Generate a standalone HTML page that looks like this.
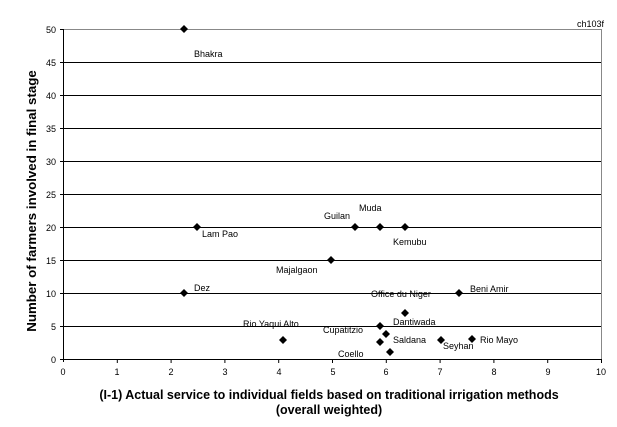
<!DOCTYPE html>
<html><head><style>
body{margin:0;background:#fff;}
svg text{font-family:"Liberation Sans",Arial,sans-serif;}
</style></head><body>
<svg width="617" height="422" xmlns="http://www.w3.org/2000/svg">
<rect width="617" height="422" fill="#fff"/>
<g stroke="#000" stroke-width="1">
<line x1="63" y1="62.5" x2="601" y2="62.5"/>
<line x1="63" y1="95.5" x2="601" y2="95.5"/>
<line x1="63" y1="128.5" x2="601" y2="128.5"/>
<line x1="63" y1="161.5" x2="601" y2="161.5"/>
<line x1="63" y1="194.5" x2="601" y2="194.5"/>
<line x1="63" y1="227.5" x2="601" y2="227.5"/>
<line x1="63" y1="260.5" x2="601" y2="260.5"/>
<line x1="63" y1="293.5" x2="601" y2="293.5"/>
<line x1="63" y1="326.5" x2="601" y2="326.5"/>
</g>
<line x1="63" y1="29.5" x2="601" y2="29.5" stroke="#888"/>
<line x1="601.5" y1="29" x2="601.5" y2="359" stroke="#888"/>
<line x1="63.5" y1="29" x2="63.5" y2="362" stroke="#000"/>
<line x1="60" y1="359.5" x2="601" y2="359.5" stroke="#000"/>
<g stroke="#000">
<line x1="60" y1="29.5" x2="63" y2="29.5"/><line x1="60" y1="62.5" x2="63" y2="62.5"/><line x1="60" y1="95.5" x2="63" y2="95.5"/><line x1="60" y1="128.5" x2="63" y2="128.5"/><line x1="60" y1="161.5" x2="63" y2="161.5"/><line x1="60" y1="194.5" x2="63" y2="194.5"/><line x1="60" y1="227.5" x2="63" y2="227.5"/><line x1="60" y1="260.5" x2="63" y2="260.5"/><line x1="60" y1="293.5" x2="63" y2="293.5"/><line x1="60" y1="326.5" x2="63" y2="326.5"/>
<line x1="117.3" y1="359" x2="117.3" y2="363"/><line x1="171.1" y1="359" x2="171.1" y2="363"/><line x1="224.9" y1="359" x2="224.9" y2="363"/><line x1="278.7" y1="359" x2="278.7" y2="363"/><line x1="332.5" y1="359" x2="332.5" y2="363"/><line x1="386.3" y1="359" x2="386.3" y2="363"/><line x1="440.1" y1="359" x2="440.1" y2="363"/><line x1="493.9" y1="359" x2="493.9" y2="363"/><line x1="547.7" y1="359" x2="547.7" y2="363"/><line x1="601.5" y1="359" x2="601.5" y2="363"/>
</g>
<g font-size="9" text-anchor="end">
<text x="56" y="33">50</text><text x="56" y="66">45</text><text x="56" y="99">40</text><text x="56" y="132">35</text><text x="56" y="165">30</text><text x="56" y="198">25</text><text x="56" y="231">20</text><text x="56" y="264">15</text><text x="56" y="297">10</text><text x="56" y="330">5</text><text x="56" y="363">0</text>
</g>
<g font-size="9" text-anchor="middle">
<text x="63" y="375">0</text><text x="117" y="375">1</text><text x="171" y="375">2</text><text x="225" y="375">3</text><text x="279" y="375">4</text><text x="333" y="375">5</text><text x="386" y="375">6</text><text x="440" y="375">7</text><text x="494" y="375">8</text><text x="548" y="375">9</text><text x="601" y="375">10</text>
</g>
<text x="577" y="27" font-size="9">ch103f</text>
<text x="329" y="399" font-size="12.5" font-weight="bold" text-anchor="middle">(I-1) Actual service to individual fields based on traditional irrigation methods</text>
<text x="329" y="414" font-size="12.5" font-weight="bold" text-anchor="middle">(overall weighted)</text>
<text transform="translate(36,201) rotate(-90)" font-size="13.3" font-weight="bold" text-anchor="middle">Number of farmers involved in final stage</text>
<g fill="#000">
<path d="M184 25l4 4-4 4-4-4z"/><path d="M197 223l4 4-4 4-4-4z"/><path d="M355 223l4 4-4 4-4-4z"/><path d="M380 223l4 4-4 4-4-4z"/><path d="M405 223l4 4-4 4-4-4z"/><path d="M331 256l4 4-4 4-4-4z"/><path d="M184 289l4 4-4 4-4-4z"/><path d="M459 289l4 4-4 4-4-4z"/><path d="M405 309l4 4-4 4-4-4z"/><path d="M380 322l4 4-4 4-4-4z"/><path d="M386 330l4 4-4 4-4-4z"/><path d="M283 336l4 4-4 4-4-4z"/><path d="M380 338l4 4-4 4-4-4z"/><path d="M390 348l4 4-4 4-4-4z"/><path d="M441 336l4 4-4 4-4-4z"/><path d="M472 335l4 4-4 4-4-4z"/>
</g>
<g font-size="9">
<text x="194" y="57">Bhakra</text><text x="202" y="237">Lam Pao</text><text x="324" y="219">Guilan</text><text x="359" y="211">Muda</text><text x="393" y="245">Kemubu</text><text x="276" y="273">Majalgaon</text><text x="194" y="291">Dez</text><text x="470" y="292">Beni Amir</text><text x="371" y="297">Office du Niger</text><text x="393" y="325">Dantiwada</text><text x="243" y="327">Rio Yaqui Alto</text><text x="323" y="333">Cupatitzio</text><text x="393" y="343">Saldana</text><text x="443" y="349">Seyhan</text><text x="480" y="343">Rio Mayo</text><text x="338" y="357">Coello</text>
</g>
</svg>
</body></html>
